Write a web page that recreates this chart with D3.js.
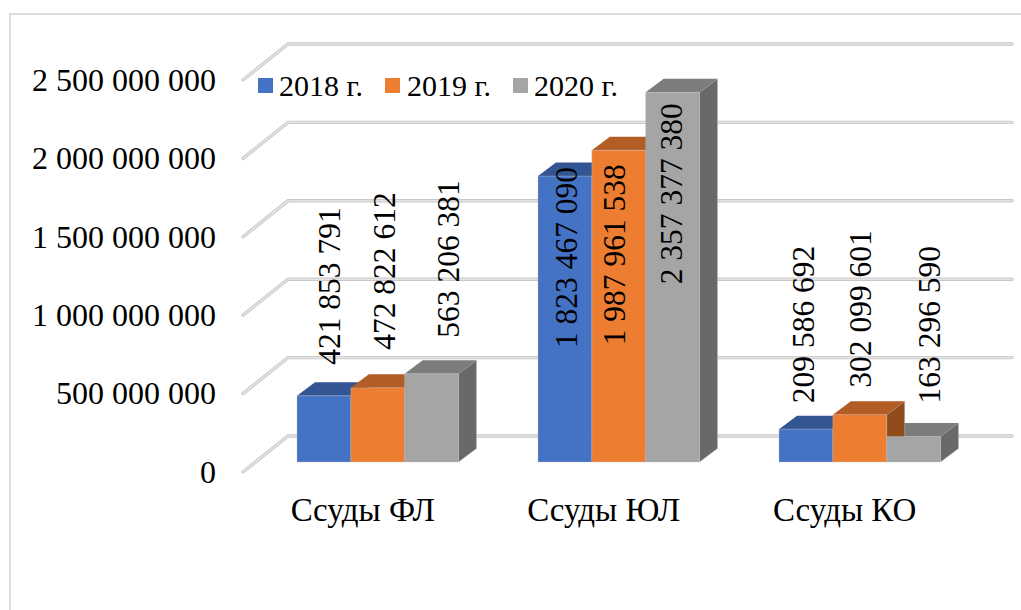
<!DOCTYPE html>
<html><head><meta charset="utf-8">
<script src="https://cdn.jsdelivr.net/npm/d3@7"></script>
<style>html,body{margin:0;padding:0;background:#fff}svg{display:block}text{font-family:"Liberation Serif",serif;fill:#000}</style>
</head><body><div id="c"></div>
<script>
const categories = ["Ссуды ФЛ","Ссуды ЮЛ","Ссуды КО"];
const seriesNames = ["2018 г.","2019 г.","2020 г."];
const values2018 = [421853791,1823467090,209586692];
const values2019 = [472822612,1987961538,302099601];
const values2020 = [563206381,2357377380,163296590];
const seriesValues = [values2018,values2019,values2020];
const tickValues = [0,500000000,1000000000,1500000000,2000000000,2500000000];
const tickLabels = ["0","500 000 000","1 000 000 000","1 500 000 000","2 000 000 000","2 500 000 000"];
const labelTexts = [["421 853 791","1 823 467 090","209 586 692"],["472 822 612","1 987 961 538","302 099 601"],["563 206 381","2 357 377 380","163 296 590"]];
const fronts = ["#4472c4","#ed7d31","#a5a5a5"];
const tops = ["#335593","#b25d25","#7c7c7c"];
const sides = ["#2a4677","#914c1e","#696969"];
// label placement relative to each bar (series rows, category columns)
const labelDx = [[6,2,-2],[7,-4,1],[17,-0.5,16.5]];
const labelDy = [[-31,172,-26],[-38,195,-27],[-36,192,-33]];

const W=1021,H=610;
const svg=d3.select("#c").append("svg").attr("width",W).attr("height",H);
svg.append("path").attr("d","M10 610V14H1021").attr("fill","none").attr("stroke","#dedede").attr("stroke-width",2);

const y=d3.scaleLinear().domain([0,2500000000]).range([462,70]);
const groupX=d3.scaleBand().domain(categories).range([176.5,899.5]);
const barX=d3.scaleBand().domain(d3.range(3)).range([120.5,282]);
const dx=18,dy=13.5;
const gridDx=45,gridDy=36,gridYShift=10;

const grid=svg.append("g");
tickValues.forEach(t=>{
  const fy=y(t)+gridYShift;
  const p=`M243 ${fy}L${243+gridDx} ${fy-gridDy}H1012`;
  grid.append("path").attr("d",p).attr("fill","none").attr("stroke","#c8c8c8").attr("stroke-width",3.4).attr("stroke-linecap","round");
  grid.append("path").attr("d",p).attr("fill","none").attr("stroke","#e4e4e4").attr("stroke-width",1.6).attr("stroke-linecap","round");
});

const yAxis=d3.axisLeft(y).tickValues(tickValues).tickFormat((d,i)=>tickLabels[i]).tickSize(0).tickPadding(0);
const ya=svg.append("g").attr("transform",`translate(216,${gridYShift})`).call(yAxis);
ya.select(".domain").remove();
ya.selectAll("text").attr("font-size",32).attr("font-family","Liberation Serif").attr("dy","0.32em").attr("fill","#000");

categories.forEach((c,ci)=>{
  const g=svg.append("g");
  const geom=si=>({x0:groupX(c)+barX(si),w:barX.bandwidth(),yt:y(seriesValues[si][ci]),yb:y(0)});
  // tops and sides: lower bars first, so a taller neighbour covers them
  d3.range(3).sort((a,b)=>seriesValues[a][ci]-seriesValues[b][ci]).forEach(si=>{
    const {x0,w,yt,yb}=geom(si);
    g.append("path").attr("fill",sides[si]).attr("stroke","#bdbdbd").attr("stroke-opacity",.45)
      .attr("d",`M${x0+w} ${yt}l${dx} ${-dy}V${yb-dy}L${x0+w} ${yb}Z`);
    g.append("path").attr("fill",tops[si]).attr("d",`M${x0} ${yt}l${dx} ${-dy}h${w}l${-dx} ${dy}Z`);
  });
  // front faces last
  d3.range(3).forEach(si=>{
    const {x0,w,yt,yb}=geom(si);
    g.append("rect").attr("x",x0).attr("y",yt).attr("width",w).attr("height",yb-yt).attr("fill",fronts[si])
      .attr("stroke","#bdbdbd").attr("stroke-opacity",.35);
  });
});

categories.forEach((c,ci)=>{
  d3.range(3).forEach(si=>{
    const cx=groupX(c)+barX(si)+barX.bandwidth()/2+labelDx[si][ci];
    const by=y(seriesValues[si][ci])+labelDy[si][ci];
    svg.append("text").attr("transform",`translate(${cx},${by}) rotate(-90)`)
      .attr("dy","0.33em").attr("font-size",31.5).text(labelTexts[si][ci]);
  });
});

categories.forEach(c=>{
  svg.append("text").attr("x",groupX(c)+barX(1)+barX.bandwidth()/2-15).attr("y",521)
    .attr("text-anchor","middle").attr("font-size",33).text(c);
});

const legendX=[258,385,513],legendTx=[279,407,534];
seriesNames.forEach((s,i)=>{
  svg.append("rect").attr("x",legendX[i]).attr("y",78).attr("width",15).attr("height",15).attr("fill",fronts[i]);
  svg.append("text").attr("x",legendTx[i]).attr("y",95.5).attr("font-size",30).text(s);
});
</script></body></html>
